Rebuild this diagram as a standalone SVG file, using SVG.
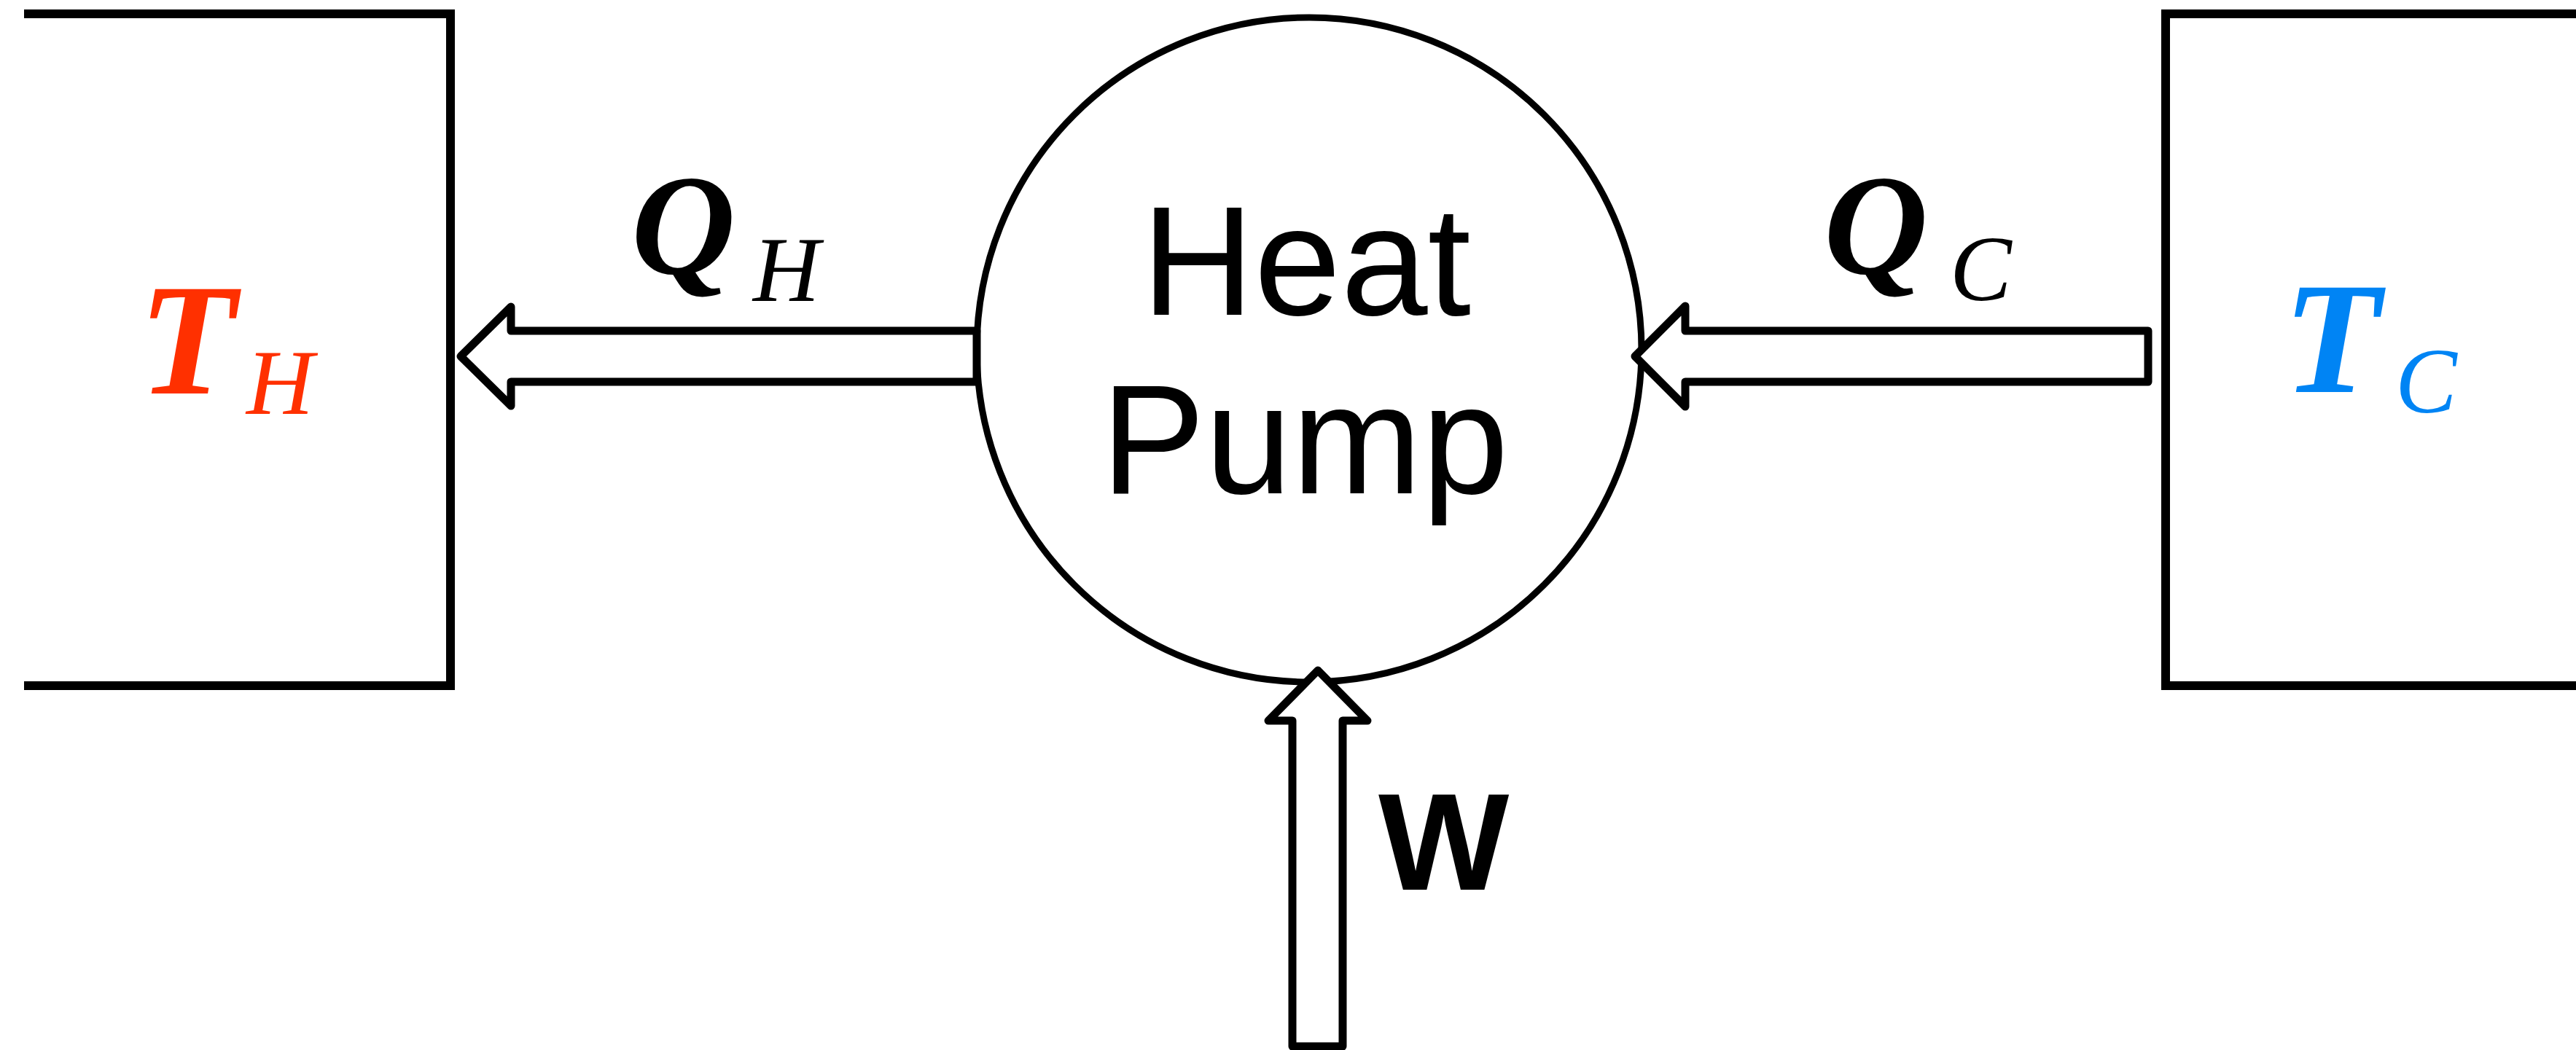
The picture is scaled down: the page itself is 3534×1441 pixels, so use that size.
<svg xmlns="http://www.w3.org/2000/svg" width="3534" height="1441" viewBox="0 0 3534 1441">
  <style>
    .box { fill: none; stroke: #000; stroke-width: 12; stroke-linejoin: miter; }
    .pump { fill: #fff; stroke: #000; stroke-width: 9; }
    .flow { fill: #fff; stroke: #000; stroke-width: 11; stroke-linejoin: round; }
    .sym { font-family: "Liberation Serif", "DejaVu Serif", serif; font-weight: bold; font-style: italic; }
    .sub { font-family: "Liberation Serif", "DejaVu Serif", serif; font-style: italic; }
    .label { font-family: "Liberation Sans", Arial, sans-serif; fill: #000; }
  </style>
  <rect x="0" y="0" width="3534" height="1441" fill="#fff"/>

  <g id="hot-reservoir">
    <path class="box" d="M33,19 H618 V941 H33"/>
    <text class="sym" x="190" y="540" font-size="219" fill="#ff3000">T</text>
    <text class="sub" x="338" y="568" font-size="128" fill="#ff3000">H</text>
  </g>

  <g id="cold-reservoir">
    <path class="box" d="M3545,19 H2971 V941 H3545"/>
    <text class="sym" x="3132" y="538" font-size="219" fill="#0084f4">T</text>
    <text class="sub" x="3286" y="566" font-size="127" fill="#0084f4">C</text>
  </g>

  <g id="heat-pump">
    <circle class="pump" cx="1796" cy="480" r="456"/>
    <text class="label" x="1792" y="432" font-size="214" text-anchor="middle">Heat</text>
    <text class="label" x="1790" y="677" font-size="214" text-anchor="middle">Pump</text>
  </g>

  <g id="connectors">
    <path class="flow" d="M632,489 L701,421 L701,454 L1340,454 L1340,524 L701,524 L701,557 Z"/>
    <path class="flow" d="M2243,489 L2312,420 L2312,454 L2947,454 L2947,524 L2312,524 L2312,558 Z"/>
    <path class="flow" d="M1808,920 L1876,989 L1842,989 L1842,1436 L1773,1436 L1773,989 L1740,989 Z"/>
  </g>

  <g id="labels">
    <text class="sym" x="866" y="376" font-size="198" fill="#000">Q</text>
    <text class="sub" x="1033" y="413" font-size="127" fill="#000">H</text>
    <text class="sym" x="2502" y="376" font-size="198" fill="#000">Q</text>
    <text class="sub" x="2675" y="412" font-size="127" fill="#000">C</text>
    <text class="label" x="1891" y="1221" font-size="190" font-weight="bold">W</text>
  </g>
</svg>
